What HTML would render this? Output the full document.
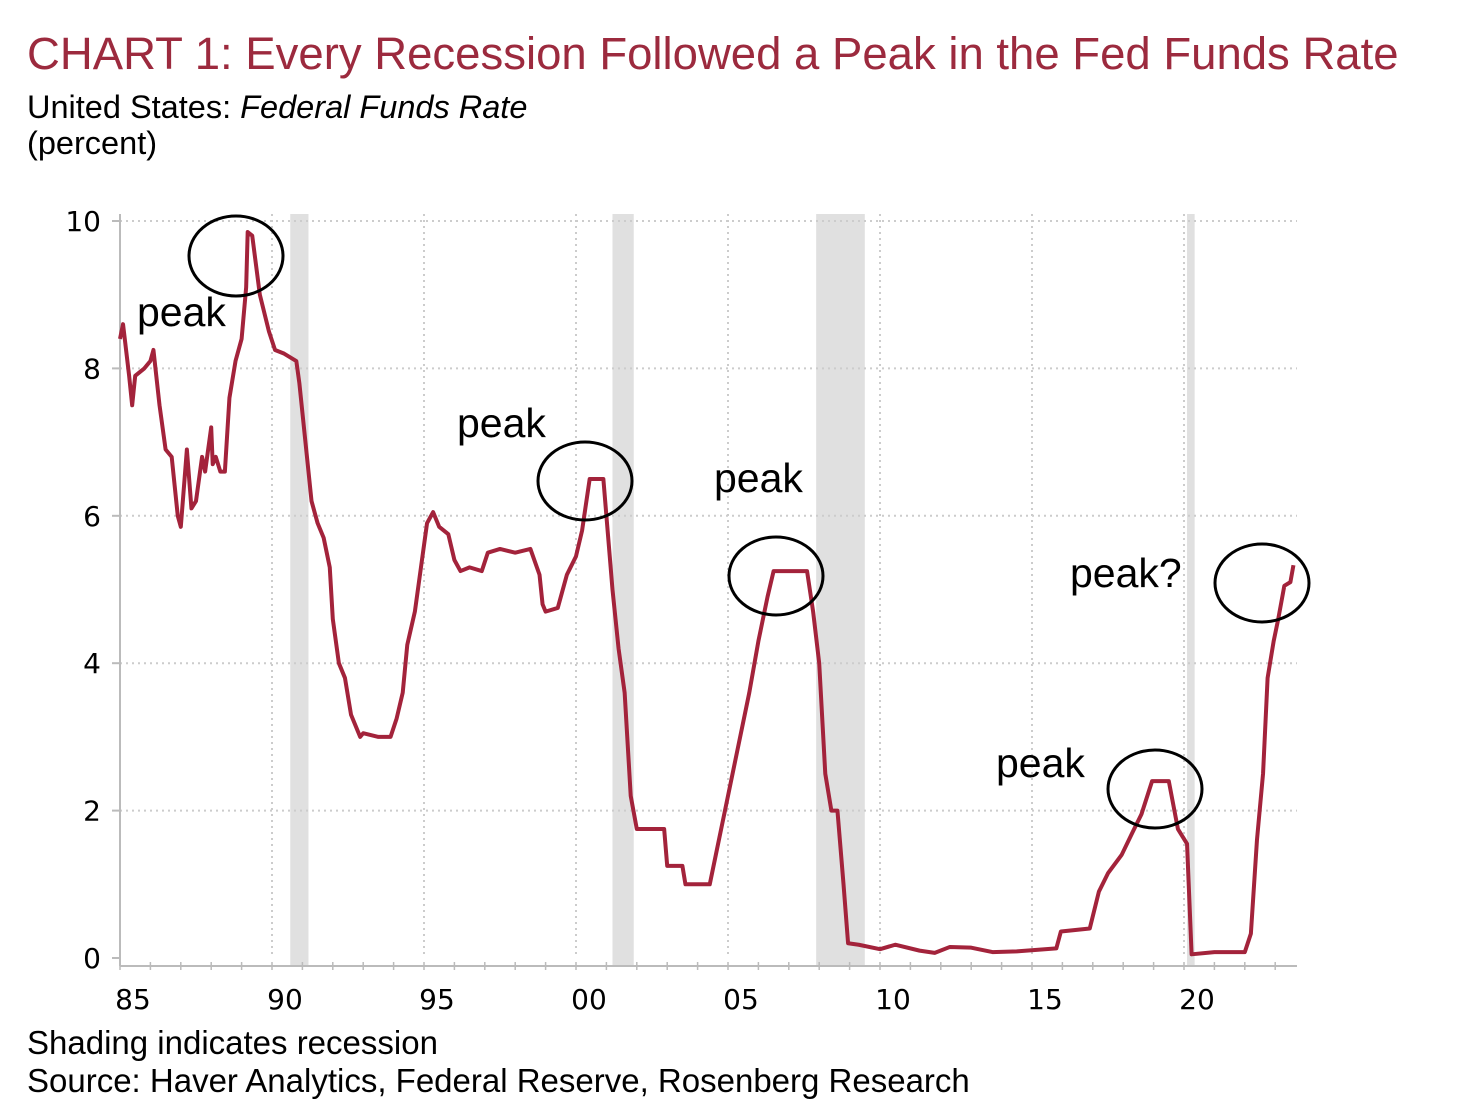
<!DOCTYPE html>
<html><head><meta charset="utf-8"><style>
body{margin:0;background:#fff;width:1484px;height:1116px;overflow:hidden;font-family:"Liberation Sans",sans-serif}
.t{position:absolute;white-space:nowrap}
</style></head><body>
<div class="t" style="left:27px;top:28px;font-size:45.5px;color:#9c2a3e">CHART 1: Every Recession Followed a Peak in the Fed Funds Rate</div>
<div class="t" style="left:27px;top:89px;font-size:32.5px;color:#000">United States: <i>Federal Funds Rate</i></div>
<div class="t" style="left:27px;top:125px;font-size:32.5px;color:#000">(percent)</div>
<div class="t" style="left:27px;top:1024px;font-size:33px">Shading indicates recession</div>
<div class="t" style="left:27px;top:1062px;font-size:33px">Source: Haver Analytics, Federal Reserve, Rosenberg Research</div>
<svg id="c" width="1484" height="1116" style="position:absolute;left:0;top:0"></svg>
<script>
const yearTicks=[1985,1990,1995,2000,2005,2010,2015,2020];
const yearLabels=["85","90","95","00","05","10","15","20"];
const yTicks=[0,2,4,6,8,10];
const recessions=[[1990.6,1991.2],[2001.2,2001.9],[2007.9,2009.5],[2020.1,2020.35]];
const years=[1985.0,1985.1,1985.3,1985.4,1985.5,1985.8,1986.0,1986.1,1986.3,1986.5,1986.7,1986.9,1987.0,1987.2,1987.35,1987.5,1987.7,1987.8,1988.0,1988.05,1988.15,1988.3,1988.45,1988.6,1988.8,1989.0,1989.15,1989.2,1989.35,1989.6,1989.9,1990.1,1990.4,1990.8,1990.9,1991.1,1991.3,1991.5,1991.7,1991.9,1992.0,1992.2,1992.4,1992.6,1992.9,1993.0,1993.5,1993.9,1994.1,1994.3,1994.45,1994.7,1994.9,1995.1,1995.3,1995.5,1995.8,1996.0,1996.2,1996.5,1996.9,1997.1,1997.5,1998.0,1998.5,1998.8,1998.9,1999.0,1999.4,1999.7,2000.0,2000.2,2000.45,2000.9,2001.0,2001.2,2001.4,2001.6,2001.8,2002.0,2002.9,2003.0,2003.5,2003.6,2004.4,2004.6,2004.9,2005.3,2005.7,2006.0,2006.3,2006.5,2007.6,2007.8,2008.0,2008.2,2008.4,2008.6,2008.8,2008.95,2009.3,2010.0,2010.5,2011.3,2011.8,2012.3,2013.0,2013.7,2014.5,2015.8,2015.95,2016.9,2017.2,2017.5,2017.95,2018.3,2018.6,2018.95,2019.5,2019.8,2020.1,2020.25,2021.0,2022.0,2022.2,2022.4,2022.6,2022.75,2022.95,2023.1,2023.3,2023.5,2023.6];
const rates=[8.4,8.6,7.9,7.5,7.9,8.0,8.1,8.25,7.5,6.9,6.8,6.0,5.85,6.9,6.1,6.2,6.8,6.6,7.2,6.7,6.8,6.6,6.6,7.6,8.1,8.4,9.1,9.85,9.8,9.0,8.5,8.25,8.2,8.1,7.8,7.0,6.2,5.9,5.7,5.3,4.6,4.0,3.8,3.3,3.0,3.05,3.0,3.0,3.25,3.6,4.25,4.7,5.3,5.9,6.05,5.85,5.75,5.4,5.25,5.3,5.25,5.5,5.55,5.5,5.55,5.2,4.8,4.7,4.75,5.2,5.45,5.8,6.5,6.5,6.0,5.0,4.2,3.6,2.2,1.75,1.75,1.25,1.25,1.0,1.0,1.4,2.0,2.8,3.6,4.3,4.9,5.25,5.25,4.7,4.0,2.5,2.0,2.0,1.0,0.2,0.18,0.12,0.18,0.1,0.07,0.15,0.14,0.08,0.09,0.13,0.36,0.4,0.9,1.15,1.4,1.7,1.95,2.4,2.4,1.75,1.55,0.05,0.08,0.08,0.33,1.6,2.5,3.8,4.3,4.6,5.05,5.1,5.33];
const X=y=>120+(y-1985)*30.4, Y=v=>958-v*73.7;
const s=document.getElementById('c'),NS='http://www.w3.org/2000/svg';
function mk(t,a){const e=document.createElementNS(NS,t);for(const k in a)e.setAttribute(k,a[k]);s.appendChild(e);return e;}
recessions.forEach(r=>{const e=mk('rect',{x:X(r[0]),y:214,width:X(r[1])-X(r[0]),height:Y(0)-214+8,fill:'#e0e0e0'});

});
yTicks.forEach(v=>{if(v>0){const g=mk('line',{x1:120,x2:1297,y1:Y(v),y2:Y(v),stroke:'#ccc','stroke-width':2,'stroke-dasharray':'2 4'});

}
mk('line',{x1:112,x2:120,y1:Y(v),y2:Y(v),stroke:'#bbb','stroke-width':2});
const t=mk('text',{x:101,y:Y(v)+10,'text-anchor':'end','font-size':28,'font-family':'DejaVu Sans,sans-serif'});t.textContent=v;

});
yearTicks.forEach((yr,i)=>{if(i>0){const g=mk('line',{x1:X(yr),x2:X(yr),y1:214,y2:Y(0),stroke:'#ccc','stroke-width':2,'stroke-dasharray':'2 4'});

}
const t=mk('text',{x:X(yr)+13,y:1009,'text-anchor':'middle','font-size':28,'font-family':'DejaVu Sans,sans-serif'});t.textContent=yearLabels[i];

});
for(let y=1985;y<=2023;y++)mk('line',{x1:X(y),x2:X(y),y1:Y(0)+4,y2:Y(0)+12,stroke:'#bbb','stroke-width':1.5});
mk('line',{x1:120,x2:120,y1:214,y2:Y(0)+8,stroke:'#bbb','stroke-width':2});
mk('line',{x1:120,x2:1297,y1:Y(0)+8,y2:Y(0)+8,stroke:'#bbb','stroke-width':2});
const p=mk('polyline',{points:years.map((y,i)=>X(y)+','+Y(rates[i])).join(' '),fill:'none',stroke:'#a3233b','stroke-width':4,'stroke-linejoin':'round'});


[[236,256,47,40],[585,481,47,39],[776,576,47,39],[1155,789,47,39],[1262,583,47,39]].forEach(c=>{const e=mk('ellipse',{cx:c[0],cy:c[1],rx:c[2],ry:c[3],fill:'none',stroke:'#000','stroke-width':3});

});
[[137,326,'peak'],[457,437,'peak'],[714,492,'peak'],[996,777,'peak'],[1070,587,'peak?']].forEach(a=>{const t=mk('text',{x:a[0],y:a[1],'font-size':41,'font-family':'Liberation Sans,sans-serif'});t.textContent=a[2];

});
</script>
</body></html>
